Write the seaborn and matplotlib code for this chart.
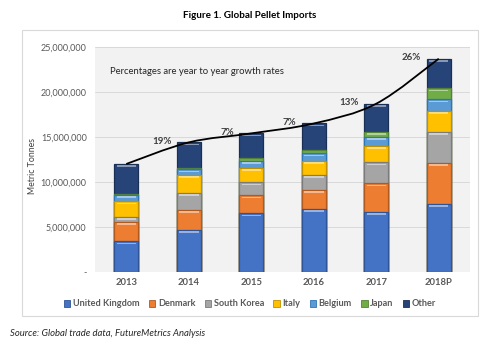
import numpy as np
import pandas as pd
import seaborn as sns
import matplotlib.pyplot as plt
from matplotlib.path import Path
from matplotlib.patches import PathPatch, Rectangle, Patch
from matplotlib.colors import to_rgb
from matplotlib.ticker import FuncFormatter

# Pellet imports by country (million metric tonnes)
years = ["2013", "2014", "2015", "2016", "2017", "2018P"]
united_kingdom = [3.4, 4.7, 6.5, 7.0, 6.7, 7.6]
denmark = [2.2, 2.2, 2.0, 2.1, 3.15, 4.5]
south_korea = [0.55, 1.9, 1.45, 1.7, 2.35, 3.5]
italy = [1.7, 2.0, 1.6, 1.55, 1.8, 2.3]
belgium = [0.75, 0.6, 0.8, 0.85, 1.05, 1.3]
japan = [0.1, 0.1, 0.3, 0.4, 0.55, 1.2]
other = [3.3, 2.9, 2.75, 2.9, 3.1, 3.3]
growth_labels = ["19%", "7%", "7%", "13%", "26%"]

series_names = ["United Kingdom", "Denmark", "South Korea", "Italy",
                "Belgium", "Japan", "Other"]
series_values = [united_kingdom, denmark, south_korea, italy,
                 belgium, japan, other]
colors = ["#4472C4", "#ED7D31", "#A5A5A5", "#FFC000",
          "#5B9BD5", "#70AD47", "#264478"]
edge_colors = ["#2F5597", "#AE5A21", "#7B7B7B", "#BF9000",
               "#2E75B6", "#548235", "#1A2F54"]


def lighten(c, f=0.45):
    r, g, b = to_rgb(c)
    return (r + (1 - r) * f, g + (1 - g) * f, b + (1 - b) * f)


sns.set_theme(style="white")
plt.rcParams["font.family"] = ["Lato", "DejaVu Sans"]

fig = plt.figure(figsize=(5.0, 3.43), dpi=100)
ax = fig.add_axes([0.19, 0.207, 0.75, 0.656])
ax.set_facecolor("#F2F2F2")

# chart frame around plot and legend
frame = Rectangle((0.044, 1 - 316 / 343), 0.912, (316 - 30) / 343,
                  transform=fig.transFigure, facecolor="white",
                  edgecolor="#D9D9D9", linewidth=0.8, zorder=-10)
fig.patches.append(frame)

df = pd.DataFrame({"year": years})
cum = np.zeros(len(years))
cumulative = []
for vals in series_values:
    cum = cum + np.array(vals) * 1e6
    cumulative.append(cum.copy())

# stacked bars drawn top layer first so each lower layer covers the one above
for i in reversed(range(len(series_names))):
    df["top"] = cumulative[i]
    n_before = len(ax.patches)
    sns.barplot(data=df, x="year", y="top", color=colors[i], width=0.39,
                edgecolor=edge_colors[i], linewidth=0.9, saturation=1,
                ax=ax, zorder=3)
    # bevel highlight along the top of each segment
    for j, bar in enumerate(ax.patches[n_before:n_before + len(years)]):
        seg = series_values[i][j] * 1e6
        if seg < 0.5e6:
            continue
        x0 = bar.get_x() + bar.get_width() * 0.1
        w = bar.get_width() * 0.8
        top = bar.get_y() + bar.get_height()
        ax.add_patch(Rectangle((x0, top - 0.33e6), w, 0.18e6,
                               facecolor=lighten(colors[i]), edgecolor="none",
                               zorder=3.5 + (len(series_names) - i) * 0.01))

# smoothed total line through bar tops (Catmull-Rom bezier)
totals = cumulative[-1]
xs = np.arange(len(years), dtype=float)
pts = np.column_stack([xs, totals])
verts = [pts[0]]
codes = [Path.MOVETO]
for k in range(len(pts) - 1):
    p0 = pts[k - 1] if k > 0 else pts[k]
    p1 = pts[k]
    p2 = pts[k + 1]
    p3 = pts[k + 2] if k + 2 < len(pts) else pts[k + 1]
    c1 = p1 + (p2 - p0) / 6
    c2 = p2 - (p3 - p1) / 6
    verts += [c1, c2, p2]
    codes += [Path.CURVE4] * 3
ax.add_patch(PathPatch(Path(verts, codes), facecolor="none",
                       edgecolor="black", linewidth=1.3, zorder=5))

for k, lab in enumerate(growth_labels):
    ax.text(xs[k + 1] - 0.28, totals[k + 1] + 0.1e6, lab, ha="right",
            va="center", fontsize=7, color="#404040", fontweight="bold",
            zorder=6)

ax.text(0.04, 0.89, "Percentages are year to year growth rates",
        transform=ax.transAxes, fontsize=6.8, color="#262626", va="center")

ax.set_ylim(0, 25e6)
ax.set_xlim(-0.5, 5.5)
ax.set_yticks(np.arange(0, 25e6 + 1, 5e6))
ax.yaxis.set_major_formatter(FuncFormatter(
    lambda v, p: "-" if v == 0 else f"{int(v):,}"))
ax.grid(axis="y", color="#D9D9D9", linewidth=0.7, zorder=0)
ax.set_axisbelow(True)
for s in ax.spines.values():
    s.set_visible(False)
ax.tick_params(axis="y", labelsize=6.5, labelcolor="#595959", length=0, pad=6)
ax.tick_params(axis="x", labelsize=6.8, labelcolor="#595959", length=0, pad=4)
for t in ax.get_xticklabels():
    t.set_fontweight("bold")
ax.set_xlabel("")
ax.set_ylabel("Metric Tonnes", fontsize=6.3, color="#404040")
ax.yaxis.set_label_coords(-0.155, 0.47)

handles = [Patch(facecolor=c, edgecolor=e, linewidth=0.6)
           for c, e in zip(colors, edge_colors)]
leg = fig.legend(handles, series_names, loc="center", ncol=7,
                 bbox_to_anchor=(0.5, 1 - 304 / 343), frameon=False,
                 fontsize=6.6, handlelength=0.7, handleheight=0.7,
                 handletextpad=0.3, columnspacing=1.0)
for t in leg.get_texts():
    t.set_color("#595959")
    t.set_fontweight("bold")

fig.text(0.5, 1 - 15 / 343, "Figure 1. Global Pellet Imports", ha="center",
         va="center", fontsize=7.1, fontweight="bold", color="black")
fig.text(0.02, 1 - 334 / 343,
         "Source: Global trade data, FutureMetrics Analysis", ha="left",
         va="center", fontsize=6.8, style="italic", color="#262626")

fig.savefig("out.png", dpi=100, facecolor="white")
